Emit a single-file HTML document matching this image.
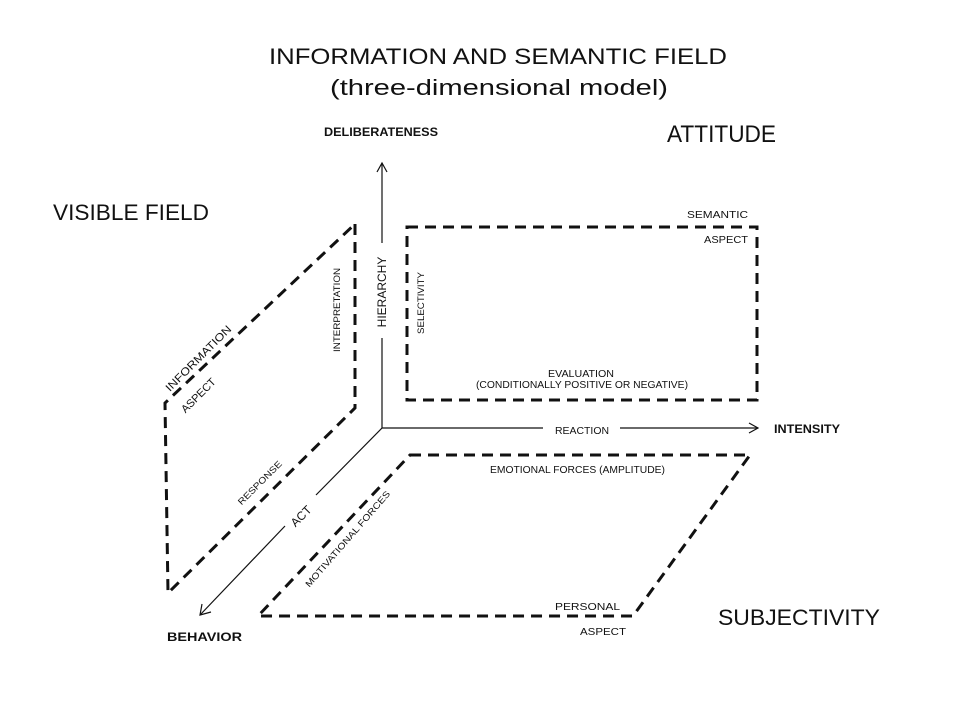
<!DOCTYPE html>
<html><head><meta charset="utf-8"><style>html,body{margin:0;padding:0;background:#fff}svg{display:block}text{font-family:"Liberation Sans",sans-serif;fill:#111}</style></head>
<body>
<svg width="960" height="720" viewBox="0 0 960 720" xmlns="http://www.w3.org/2000/svg">
<rect width="960" height="720" fill="#fff"/>
<text x="498" y="64" font-size="22" text-anchor="middle" textLength="458" lengthAdjust="spacingAndGlyphs">INFORMATION AND SEMANTIC FIELD</text>
<text x="499" y="95" font-size="22" text-anchor="middle" textLength="338" lengthAdjust="spacingAndGlyphs">(three-dimensional model)</text>
<text x="324" y="136" font-size="12" font-weight="bold" textLength="114" lengthAdjust="spacingAndGlyphs">DELIBERATENESS</text>
<text x="667" y="142" font-size="24" textLength="109" lengthAdjust="spacingAndGlyphs">ATTITUDE</text>
<text x="53" y="220" font-size="22" textLength="156" lengthAdjust="spacingAndGlyphs">VISIBLE FIELD</text>
<text x="718" y="625" font-size="22" textLength="162" lengthAdjust="spacingAndGlyphs">SUBJECTIVITY</text>
<text x="774" y="433" font-size="12" font-weight="bold" textLength="66" lengthAdjust="spacingAndGlyphs">INTENSITY</text>
<text x="167" y="641" font-size="12" font-weight="bold" textLength="75" lengthAdjust="spacingAndGlyphs">BEHAVIOR</text>

<g stroke="#111" stroke-width="1.2" fill="none">
<line x1="382" y1="428" x2="382" y2="338"/><line x1="382" y1="243" x2="382" y2="163"/>
<polyline points="377,172 382,163 387,172"/>
<line x1="382" y1="428" x2="543" y2="428"/><line x1="620" y1="428" x2="758" y2="428"/>
<polyline points="749,423 758,428 749,433"/>
<line x1="382" y1="428" x2="316" y2="495"/><line x1="285" y1="526" x2="200" y2="615"/>
<polyline points="202,604 200,615 211,612"/>
</g>
<g stroke="#111" stroke-width="3" fill="none" stroke-dasharray="11,7">
<polygon points="355,224 355,408 168,593 165,403"/>
<rect x="407" y="227" width="350" height="173"/>
<polygon points="410,455 750,455 633,616 258,616"/>
</g>

<text x="0" y="0" font-size="12" text-anchor="middle" transform="translate(386,292) rotate(-90)">HIERARCHY</text>
<text x="0" y="0" font-size="9" text-anchor="middle" transform="translate(424,303) rotate(-90)" textLength="62" lengthAdjust="spacingAndGlyphs">SELECTIVITY</text>
<text x="0" y="0" font-size="9" text-anchor="middle" transform="translate(340,310) rotate(-90)" textLength="84" lengthAdjust="spacingAndGlyphs">INTERPRETATION</text>
<text x="0" y="0" font-size="11" text-anchor="middle" transform="translate(201,361) rotate(-45)" textLength="88" lengthAdjust="spacingAndGlyphs">INFORMATION</text>
<text x="0" y="0" font-size="11" text-anchor="middle" transform="translate(201,398) rotate(-45)" textLength="44" lengthAdjust="spacingAndGlyphs">ASPECT</text>
<text x="0" y="0" font-size="9" text-anchor="middle" transform="translate(262,485) rotate(-45)" textLength="58" lengthAdjust="spacingAndGlyphs">RESPONSE</text>
<text x="0" y="0" font-size="12" text-anchor="middle" transform="translate(304,519) rotate(-45)">ACT</text>
<text x="0" y="0" font-size="9" text-anchor="middle" transform="translate(350,541) rotate(-49)" textLength="124" lengthAdjust="spacingAndGlyphs">MOTIVATIONAL FORCES</text>

<g font-size="10">
<text x="687" y="218" textLength="61" lengthAdjust="spacingAndGlyphs">SEMANTIC</text>
<text x="704" y="243" textLength="44" lengthAdjust="spacingAndGlyphs">ASPECT</text>
<text x="581" y="377" text-anchor="middle" textLength="66" lengthAdjust="spacingAndGlyphs">EVALUATION</text>
<text x="582" y="388" text-anchor="middle" textLength="212" lengthAdjust="spacingAndGlyphs">(CONDITIONALLY POSITIVE OR NEGATIVE)</text>
<text x="555" y="434" textLength="54" lengthAdjust="spacingAndGlyphs">REACTION</text>
<text x="490" y="473" textLength="175" lengthAdjust="spacingAndGlyphs">EMOTIONAL FORCES (AMPLITUDE)</text>
<text x="555" y="610" textLength="65" lengthAdjust="spacingAndGlyphs">PERSONAL</text>
<text x="580" y="635" textLength="46" lengthAdjust="spacingAndGlyphs">ASPECT</text>
</g>
</svg>
</body></html>
